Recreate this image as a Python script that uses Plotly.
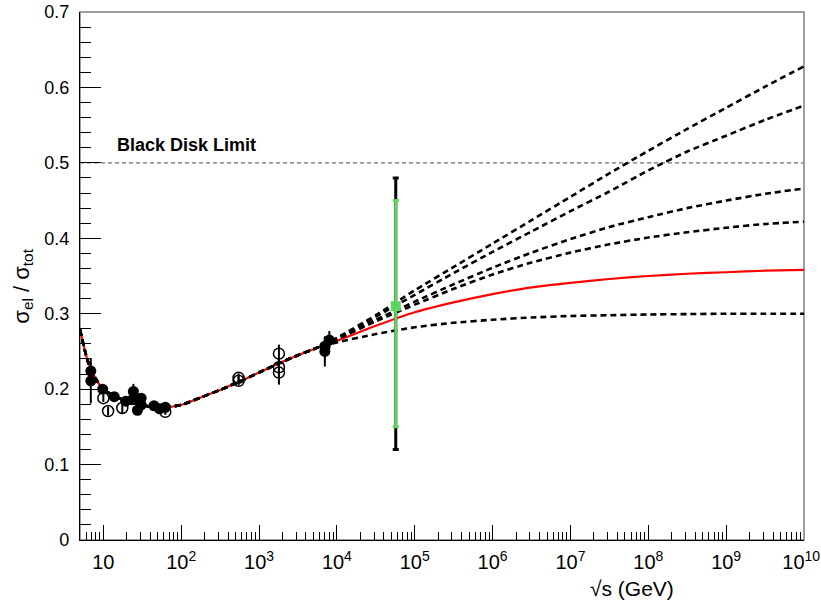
import plotly.graph_objects as go

# ---------------- data ----------------
# model curves: sigma_el / sigma_tot versus log10(sqrt(s)/GeV)
log_sqrt_s_low = [0.70, 0.80, 0.90, 1.00, 1.20, 1.40, 1.60, 1.80, 2.00, 2.25,
                  2.50, 2.75, 3.00, 3.25, 3.50, 3.75]
ratio_low = [0.279, 0.237, 0.214, 0.200, 0.188, 0.181, 0.177, 0.176, 0.179, 0.189,
             0.199, 0.210, 0.222, 0.234, 0.245, 0.255]

log_sqrt_s_high = [4.0, 4.5, 5.0, 5.5, 6.0, 6.5, 7.0, 7.5, 8.0, 8.5, 9.0, 9.5, 10.0]
ratio_dashed_1 = [0.268, 0.298, 0.331, 0.362, 0.393, 0.424, 0.455, 0.486, 0.516, 0.545, 0.573, 0.601, 0.628]
ratio_dashed_2 = [0.267, 0.296, 0.325, 0.354, 0.382, 0.409, 0.436, 0.462, 0.490, 0.515, 0.536, 0.557, 0.576]
ratio_dashed_3 = [0.267, 0.292, 0.316, 0.339, 0.361, 0.381, 0.399, 0.415, 0.428, 0.440, 0.450, 0.459, 0.466]
ratio_dashed_4 = [0.266, 0.290, 0.312, 0.333, 0.352, 0.368, 0.381, 0.392, 0.401, 0.408, 0.414, 0.419, 0.422]
ratio_red = [0.264, 0.284, 0.302, 0.315, 0.326, 0.335, 0.341, 0.346, 0.350, 0.353, 0.355, 0.357, 0.358]
ratio_dashed_5 = [0.262, 0.273, 0.282, 0.288, 0.292, 0.295, 0.297, 0.298, 0.299, 0.2995, 0.300, 0.300, 0.300]

# pp measurements (filled circles)
pp_sqrt_s = [6.9, 6.9, 9.8, 13.8, 19.4, 23.5, 24.3, 27.4, 30.6, 30.6, 44.7, 52.8, 62.5,
             7000, 7000, 8000]
pp_ratio = [0.224, 0.211, 0.200, 0.190, 0.184, 0.186, 0.197, 0.172, 0.188, 0.179, 0.178, 0.174, 0.176,
            0.257, 0.250, 0.265]
pp_err = [0.006, 0.030, 0.005, 0.006, 0.006, 0.004, 0.010, 0.004, 0.004, 0.005, 0.004, 0.004, 0.004,
          0.012, 0.020, 0.012]

# p-pbar measurements (open circles)
ppbar_sqrt_s = [10.0, 11.5, 17.5, 62.5, 546, 546, 1800, 1800, 1800]
ppbar_ratio = [0.188, 0.171, 0.175, 0.170, 0.215, 0.211, 0.247, 0.229, 0.222]
ppbar_err = [0.005, 0.006, 0.008, 0.004, 0.006, 0.006, 0.012, 0.010, 0.016]

# Auger point at 57 TeV
auger_sqrt_s = [57000]
auger_ratio = [0.31]
auger_stat_plus = [0.14]
auger_stat_minus = [0.16]
auger_tot_plus = [0.17]
auger_tot_minus = [0.19]

black_disk_limit = 0.5

x_decades = [1, 2, 3, 4, 5, 6, 7, 8, 9, 10]
# the last label gets a trailing space so it sits inside the page edge
x_tick_text = ["10"] + [f"10<sup>{k}</sup>" for k in x_decades[1:-1]] + ["10<sup>10</sup>\u00a0"]
y_ticks = [0, 0.1, 0.2, 0.3, 0.4, 0.5, 0.6, 0.7]
y_tick_text = ["0", "0.1", "0.2", "0.3", "0.4", "0.5", "0.6", "0.7"]

# ---------------- figure ----------------
FONT = "Liberation Sans, Arial, Helvetica, sans-serif"
GREEN = "#5fd35f"

x_low = [10 ** v for v in log_sqrt_s_low]
x_high = [10 ** v for v in log_sqrt_s_high]
x_curve = x_low + x_high

fig = go.Figure()

fig.add_trace(go.Scatter(
    x=x_curve, y=ratio_low + ratio_red, mode="lines",
    line=dict(color="#ff0000", width=2.2, shape="spline", smoothing=0.6),
    showlegend=False, hoverinfo="skip"))

for ys in [ratio_dashed_5, ratio_dashed_4, ratio_dashed_3, ratio_dashed_2, ratio_dashed_1]:
    fig.add_trace(go.Scatter(
        x=x_curve, y=ratio_low + ys, mode="lines",
        line=dict(color="black", width=2.6, dash="6px,4px", shape="spline", smoothing=0.6),
        showlegend=False, hoverinfo="skip"))

# open circles
fig.add_trace(go.Scatter(
    x=ppbar_sqrt_s, y=ppbar_ratio, mode="markers",
    marker=dict(symbol="circle-open", size=11, color="black", line=dict(width=1.5)),
    error_y=dict(type="data", array=ppbar_err, color="black", thickness=2, width=0),
    showlegend=False))

# filled circles
fig.add_trace(go.Scatter(
    x=pp_sqrt_s, y=pp_ratio, mode="markers",
    marker=dict(symbol="circle", size=11, color="black"),
    error_y=dict(type="data", array=pp_err, color="black", thickness=2, width=0),
    showlegend=False))

# Auger: total uncertainty (black) below, statistical (green) on top
fig.add_trace(go.Scatter(
    x=auger_sqrt_s, y=auger_ratio, mode="markers",
    marker=dict(symbol="square", size=1, color="black"),
    error_y=dict(type="data", symmetric=False, array=auger_tot_plus, arrayminus=auger_tot_minus,
                 color="black", thickness=3, width=3),
    showlegend=False))
fig.add_trace(go.Scatter(
    x=auger_sqrt_s, y=auger_ratio, mode="markers",
    marker=dict(symbol="square", size=10, color=GREEN),
    error_y=dict(type="data", symmetric=False, array=auger_stat_plus, arrayminus=auger_stat_minus,
                 color=GREEN, thickness=3, width=3),
    showlegend=False))

# black disk limit line
fig.add_shape(type="line", xref="paper", x0=0, x1=1, yref="y",
              y0=black_disk_limit, y1=black_disk_limit,
              line=dict(color="#6e6e6e", width=1.1, dash="4px,3px"), layer="below")

# frame (top and right sides in grey)
fig.add_shape(type="rect", xref="paper", yref="paper", x0=0, x1=1, y0=0, y1=1,
              line=dict(color="#808080", width=1.5), layer="below")

minor_x = [m * 10 ** k for k in range(0, 10) for m in range(2, 10) if m * 10 ** k >= 5]

fig.update_xaxes(
    type="log", range=[0.70, 10.00002],
    tickvals=[10 ** k for k in x_decades], ticktext=x_tick_text,
    ticks="inside", ticklen=15, tickwidth=1, tickcolor="black",
    minor=dict(tickvals=minor_x, ticks="inside", ticklen=8, tickwidth=1, tickcolor="black"),
    showline=True, linecolor="black", linewidth=1.2, mirror=False,
    showgrid=False, zeroline=False, automargin=False, ticklabeloverflow="allow",
    tickfont=dict(family=FONT, size=20, color="black"),
    ticklabelstandoff=4)

fig.update_yaxes(
    range=[0, 0.70001], tickvals=y_ticks, ticktext=y_tick_text,
    ticks="inside", ticklen=21, tickwidth=1, tickcolor="black",
    minor=dict(dtick=0.02, ticks="inside", ticklen=11, tickwidth=1, tickcolor="black"),
    showline=True, linecolor="black", linewidth=1.2, mirror=False,
    showgrid=False, zeroline=False, automargin=False, ticklabeloverflow="allow",
    tickfont=dict(family=FONT, size=18, color="black"),
    ticklabelstandoff=6)

fig.add_annotation(
    text="<b>Black Disk Limit</b>", xref="paper", yref="paper",
    x=0.048, y=0.748, xanchor="left", yanchor="middle", showarrow=False,
    font=dict(family=FONT, size=18, color="black"))

fig.add_annotation(
    text="√s (GeV)", xref="paper", yref="paper",
    x=0.762, y=-0.092, xanchor="center", yanchor="middle", showarrow=False,
    font=dict(family=FONT, size=21, color="black"))

fig.add_annotation(
    text="σ<sub>el</sub> / σ<sub>tot</sub>", xref="paper", yref="paper",
    x=-0.08, y=0.48, xanchor="center", yanchor="middle", textangle=-90, showarrow=False,
    font=dict(family=FONT, size=22, color="black"))

fig.update_layout(
    width=821, height=600,
    margin=dict(l=80, r=17, t=12, b=60, autoexpand=False),
    paper_bgcolor="white", plot_bgcolor="white",
    showlegend=False)

fig.write_html("out.html")
